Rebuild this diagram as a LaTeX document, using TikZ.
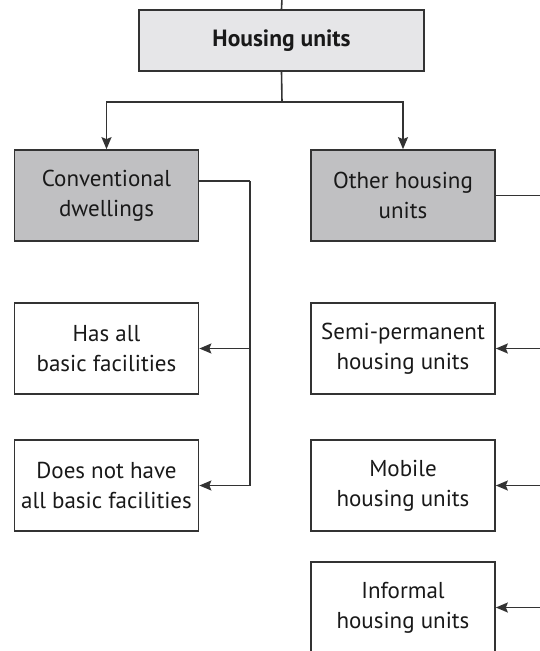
\documentclass[tikz,border=0pt]{standalone}
\usepackage{fontspec}
\setmainfont{PT Sans}
\usetikzlibrary{arrows.meta}

\definecolor{topgray}{HTML}{E6E6E8}
\definecolor{boxgray}{HTML}{C0C0C2}
\definecolor{linegray}{HTML}{333333}

\tikzset{every picture/.style={line width=1.6pt}}
\tikzset{
  unit/.style={draw=linegray,line width=1.7pt,align=center,inner sep=0pt,
    minimum width=184pt,minimum height=91pt,text=black!90,
    font=\fontsize{23}{30}\selectfont},
  group/.style={unit,fill=boxgray},
  head/.style={unit,fill=topgray,minimum width=285pt,minimum height=61pt,
    font=\fontsize{23.5}{30}\selectfont\bfseries},
  link/.style={draw=linegray},
  arrowlink/.style={link,-{Stealth[length=12pt,width=10pt,inset=2pt]}}
}

\begin{document}
\begin{tikzpicture}[x=1pt,y=-1pt]
			\useasboundingbox (0,0) rectangle (539,651);

			\node [head](hu) at (281.5,40.5) {Housing units};
			\node [group](cd) at (106.5,195.5) {Conventional\\dwellings};
			\node [group](oh) at (403,195.5) {Other housing\\units};
			\node [unit](all) at (106.5,348.5) {Has all\\basic facilities};
			\node [unit](notall) at (106.5,485.5) {Does not have\\all basic facilities};
			\node [unit](semi) at (403,348.5) {Semi-permanent\\housing units};
			\node [unit](mobile) at (403,485.5) {Mobile\\housing units};
			\node [unit](informal) at (403,607.5) {Informal\\housing units};

			\coordinate (above) at (282,-2);
			\coordinate (split) at (282,102);
			\coordinate (cdout) at ([yshift=14.5pt]cd.east);
			\coordinate (cdbus) at (250,181);
			\coordinate (ohbus) at (541,195.5);

			\draw [link] (above) -- (hu.north);
			\draw [link] (hu.south) -- (split);
			\draw [arrowlink] (split) -| (cd.north);
			\draw [arrowlink] (split) -| (oh.north);

			\draw [link] (cdout) -- (cdbus);
			\draw [arrowlink] (cdbus) |- (notall.east);
			\draw [arrowlink] (cdbus |- all.east) -- (all.east);

			\draw [link] (oh.east) -- (ohbus);
			\draw [arrowlink] (ohbus |- semi.east) -- (semi.east);
			\draw [arrowlink] (ohbus |- mobile.east) -- (mobile.east);
			\draw [arrowlink] (ohbus |- informal.east) -- (informal.east);
		\end{tikzpicture}
\end{document}
